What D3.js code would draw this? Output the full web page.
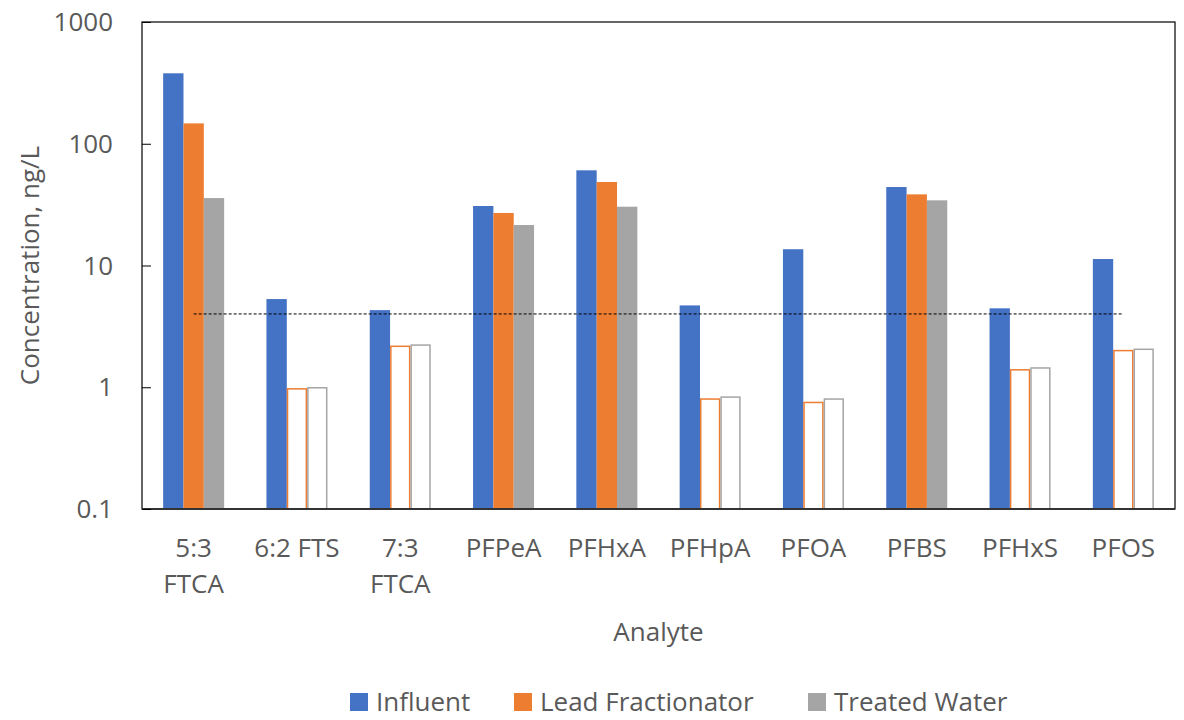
<!DOCTYPE html>
<html>
<head>
<meta charset="utf-8">
<script src="https://d3js.org/d3.v7.min.js"></script>
<style>
    body { margin: 0; background: #fff; }
    text { font-family: "Open Sans", "Liberation Sans", sans-serif; fill: #595959; }
</style>
</head>
<body>
<svg id="chart" width="1184" height="720"></svg>
<script>
    // analytes (x categories), line breaks marked with \n
    var analytes = ["5:3\nFTCA", "6:2 FTS", "7:3\nFTCA", "PFPeA", "PFHxA", "PFHpA", "PFOA", "PFBS", "PFHxS", "PFOS"];
    var seriesNames = ["Influent", "Lead Fractionator", "Treated Water"];
    var seriesColors = ["#4472C4", "#ED7D31", "#A5A5A5"];

    var influent = [379, 5.3, 4.3, 30.8, 60.5, 4.7, 13.6, 44.1, 4.45, 11.3];
    var leadFractionator = [147, 0.97, 2.17, 27.0, 48.5, 0.80, 0.75, 38.4, 1.39, 2.0];
    var treatedWater = [35.8, 0.99, 2.22, 21.5, 30.4, 0.83, 0.80, 34.3, 1.44, 2.05];
    // true = measured value, false = below detection (drawn hollow)
    var detected = [true, false, false, true, true, false, false, true, false, false];

    var yTicks = [0.1, 1, 10, 100, 1000];
    var referenceLevel = 4;

    var svg = d3.select("#chart");
    var margin = { left: 142, top: 22, right: 1175, bottom: 509 };
    var fs = "26px";

    var x = d3.scaleBand().domain(d3.range(analytes.length)).range([margin.left, margin.right]);
    var xs = d3.scaleBand().domain([0, 1, 2]).range([0, 61]).padding(0);
    var y = d3.scaleLog().domain([0.1, 1000]).range([margin.bottom, margin.top]);

    var series = [influent, leadFractionator, treatedWater];
    var bars = [];
    series.forEach(function (vals, s) {
        vals.forEach(function (v, i) {
            bars.push({ s: s, i: i, v: v, hollow: s > 0 && !detected[i] });
        });
    });

    var offset = (x.bandwidth() - 61) / 2;

    svg.append("g").selectAll("rect").data(bars).enter().append("rect")
        .attr("x", function (d) { return x(d.i) + offset + xs(d.s) + (d.hollow ? 0.75 : 0); })
        .attr("y", function (d) { return y(d.v); })
        .attr("width", function (d) { return xs.bandwidth() - (d.hollow ? 1.5 : 0); })
        .attr("height", function (d) { return margin.bottom - y(d.v); })
        .attr("fill", function (d) { return d.hollow ? "#fff" : seriesColors[d.s]; })
        .attr("stroke", function (d) { return d.hollow ? seriesColors[d.s] : "none"; })
        .attr("stroke-width", 1.5);

    // reference line
    svg.append("line")
        .attr("x1", x(0) + x.bandwidth() / 2)
        .attr("x2", x(analytes.length - 1) + x.bandwidth() / 2)
        .attr("y1", y(referenceLevel)).attr("y2", y(referenceLevel))
        .attr("stroke", "#000").attr("stroke-width", 1).attr("stroke-dasharray", "3,2");

    // plot frame
    svg.append("rect")
        .attr("x", margin.left).attr("y", margin.top)
        .attr("width", margin.right - margin.left).attr("height", margin.bottom - margin.top)
        .attr("fill", "none").attr("stroke", "#000").attr("stroke-width", 1.2);

    svg.append("line")
        .attr("x1", margin.left).attr("x2", margin.right)
        .attr("y1", margin.bottom).attr("y2", margin.bottom)
        .attr("stroke", "#333").attr("stroke-width", 1.8);

    // y axis (inside ticks)
    var yAxis = svg.append("g")
        .attr("transform", "translate(" + margin.left + ",0)")
        .call(d3.axisRight(y).tickValues(yTicks).tickSize(9).tickFormat(""));
    yAxis.select(".domain").remove();
    yAxis.selectAll("line").attr("stroke", "#000");

    svg.append("g").selectAll("text").data(yTicks).enter().append("text")
        .attr("x", 113).attr("y", function (d) { return y(d); })
        .attr("dy", "0.35em").attr("text-anchor", "end")
        .style("font-size", fs)
        .text(function (d) { return d3.format("~g")(d); });

    // x labels
    var xl = svg.append("g").selectAll("text").data(analytes).enter().append("text")
        .attr("text-anchor", "middle")
        .style("font-size", fs)
        .attr("transform", function (d, i) { return "translate(" + (x(i) + x.bandwidth() / 2) + ",557)"; });
    xl.selectAll("tspan").data(function (d) { return d.split("\n"); }).enter().append("tspan")
        .attr("x", 0).attr("dy", function (d, j) { return j === 0 ? 0 : 36; })
        .text(function (d) { return d; });

    svg.append("text").attr("x", (margin.left + margin.right) / 2).attr("y", 641)
        .attr("text-anchor", "middle").style("font-size", fs).text("Analyte");

    svg.append("text")
        .attr("transform", "translate(39," + ((margin.top + margin.bottom) / 2) + ") rotate(-90)")
        .attr("text-anchor", "middle").style("font-size", fs).text("Concentration, ng/L");

    // legend
    var legendX = [350, 514, 808];
    var lg = svg.append("g").selectAll("g").data(seriesNames).enter().append("g")
        .attr("transform", function (d, i) { return "translate(" + legendX[i] + ",693)"; });
    lg.append("rect").attr("width", 18).attr("height", 18)
        .attr("fill", function (d, i) { return seriesColors[i]; });
    lg.append("text").attr("x", 26).attr("y", 9).attr("dy", "0.35em")
        .style("font-size", fs).text(function (d) { return d; });
</script>
</body>
</html>
